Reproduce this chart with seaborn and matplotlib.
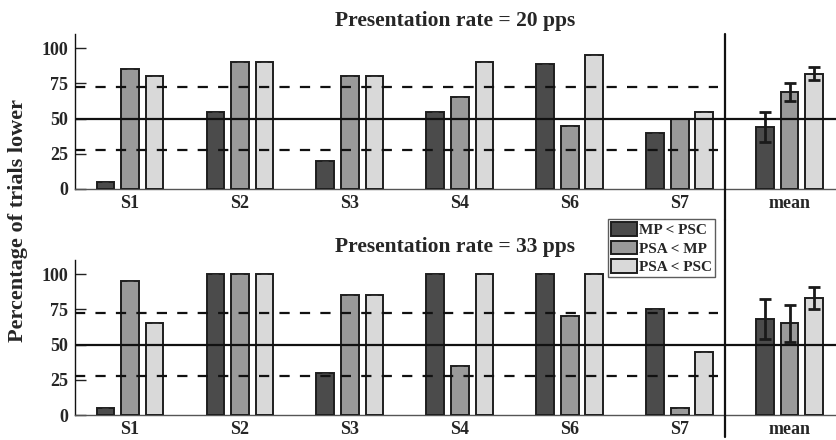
import numpy as np
import pandas as pd
import matplotlib
matplotlib.use("Agg")
import matplotlib.pyplot as plt
from matplotlib.patches import Patch
import seaborn as sns

# ---- data -------------------------------------------------------------
subjects = ["S1", "S2", "S3", "S4", "S6", "S7", "mean"]
comparisons = ["MP < PSC", "PSA < MP", "PSA < PSC"]

rate20_mp_psc = [5, 55, 20, 55, 89, 40, 44]
rate20_psa_mp = [85, 90, 80, 65, 45, 50, 69]
rate20_psa_psc = [80, 90, 80, 90, 95, 55, 82]
rate20_err = {"MP < PSC": 10.4, "PSA < MP": 6.6, "PSA < PSC": 4.9}

rate33_mp_psc = [5, 100, 30, 100, 100, 75, 68]
rate33_psa_mp = [95, 100, 85, 35, 70, 5, 65]
rate33_psa_psc = [65, 100, 85, 100, 100, 45, 83]
rate33_err = {"MP < PSC": 14.3, "PSA < MP": 12.9, "PSA < PSC": 7.9}

titles = ["Presentation rate = 20 pps", "Presentation rate = 33 pps"]
yticks = [0, 25, 50, 75, 100]
chance = 50
bounds = [27.5, 72.5]

palette = {"MP < PSC": "#4b4b4b", "PSA < MP": "#9a9a9a", "PSA < PSC": "#d9d9d9"}


def long_table(a, b, c):
    rows = []
    for vals, comp in zip([a, b, c], comparisons):
        for s, v in zip(subjects, vals):
            rows.append({"subject": s, "comparison": comp, "value": v})
    return pd.DataFrame(rows)


panels = [
    (long_table(rate20_mp_psc, rate20_psa_mp, rate20_psa_psc), rate20_err),
    (long_table(rate33_mp_psc, rate33_psa_mp, rate33_psa_psc), rate33_err),
]

# ---- figure -----------------------------------------------------------
sns.set_theme(style="white")
plt.rcParams["font.family"] = ["Liberation Serif", "DejaVu Serif"]
plt.rcParams["font.weight"] = "bold"

fig = plt.figure(figsize=(8.37, 4.40), dpi=100)
ax_top = fig.add_axes([0.0896, 0.5705, 0.909, 0.352])
ax_bot = fig.add_axes([0.0896, 0.0568, 0.909, 0.352])

group_w = 0.67
offsets = np.array([-1, 0, 1]) * group_w / 3
sep_x = 5.41

for i, (ax, (df, err)) in enumerate(zip([ax_top, ax_bot], panels)):
    sns.barplot(data=df, x="subject", y="value", hue="comparison",
                hue_order=comparisons, order=subjects, palette=palette,
                width=group_w, gap=0.28, errorbar=None,
                edgecolor="#1e1e1e", linewidth=1.4, ax=ax, legend=False,
                zorder=3)

    # error bars on the means, zero-length marks on the single subjects
    for k, comp in enumerate(comparisons):
        vals = df[df.comparison == comp]["value"].to_numpy()
        xs = np.arange(len(subjects)) + offsets[k]
        ax.errorbar(xs[:-1], vals[:-1], yerr=np.zeros(len(vals) - 1),
                    fmt="none", ecolor="#333333", elinewidth=0.6,
                    capsize=2.5, capthick=0.6, zorder=4)
        ax.errorbar(xs[-1:], vals[-1:], yerr=[err[comp]], fmt="none",
                    ecolor="#1a1a1a", elinewidth=2.0, capsize=4.5,
                    capthick=2.0, zorder=5)

    # reference lines
    ax.axhline(chance, color="#111111", lw=1.6, zorder=6)
    for b in bounds:
        ax.plot([-0.5, 5.35], [b, b], color="#111111", lw=1.6,
                linestyle=(0, (4.6, 4.6)), zorder=6)
    if i == 0:
        ax.axvline(sep_x, ymin=-0.2, ymax=1.0, color="#111111", lw=1.6,
                   clip_on=False, zorder=6)
    else:
        ax.axvline(sep_x, ymin=-0.145, ymax=1.26, color="#111111", lw=1.6,
                   clip_on=False, zorder=6)

    ax.set_xlim(-0.5, 6.42)
    ax.set_ylim(0, 110)
    ax.set_yticks(yticks)
    ax.set_yticklabels([str(t) for t in yticks], fontsize=13, fontweight="bold")
    ax.set_xticks(range(len(subjects)))
    ax.set_xticklabels(subjects, fontsize=13, fontweight="bold")
    ax.tick_params(axis="y", direction="in", length=8, width=1.0,
                   color="#222222", left=True, pad=5)
    ax.tick_params(axis="x", length=0, pad=4)
    ax.set_xlabel("")
    ax.set_ylabel("")
    ax.set_title(titles[i], fontsize=15.5, fontweight="bold", pad=6)
    for side in ["top", "right"]:
        ax.spines[side].set_visible(False)
    ax.spines["left"].set_color("#111111")
    ax.spines["left"].set_linewidth(1.0)
    ax.spines["bottom"].set_color("#555555")
    ax.spines["bottom"].set_linewidth(1.0)

fig.text(0.021, 0.5, "Percentage of trials lower", rotation=90,
         ha="center", va="center", fontsize=16, fontweight="bold")

# legend
handles = [Patch(facecolor=palette[c], edgecolor="#1e1e1e", linewidth=1.4)
           for c in comparisons]
leg = ax_bot.legend(handles, comparisons, loc="upper left",
                    bbox_to_anchor=(0.700, 1.265), frameon=True,
                    fancybox=False, edgecolor="#333333",
                    prop={"family": "Liberation Serif", "weight": "bold",
                          "size": 11},
                    handlelength=1.7, handleheight=1.0, handletextpad=0.15,
                    labelspacing=0.22, borderpad=0.2, borderaxespad=0)
leg.get_frame().set_linewidth(1.0)
leg.set_zorder(10)

fig.savefig("out.png", dpi=100)
